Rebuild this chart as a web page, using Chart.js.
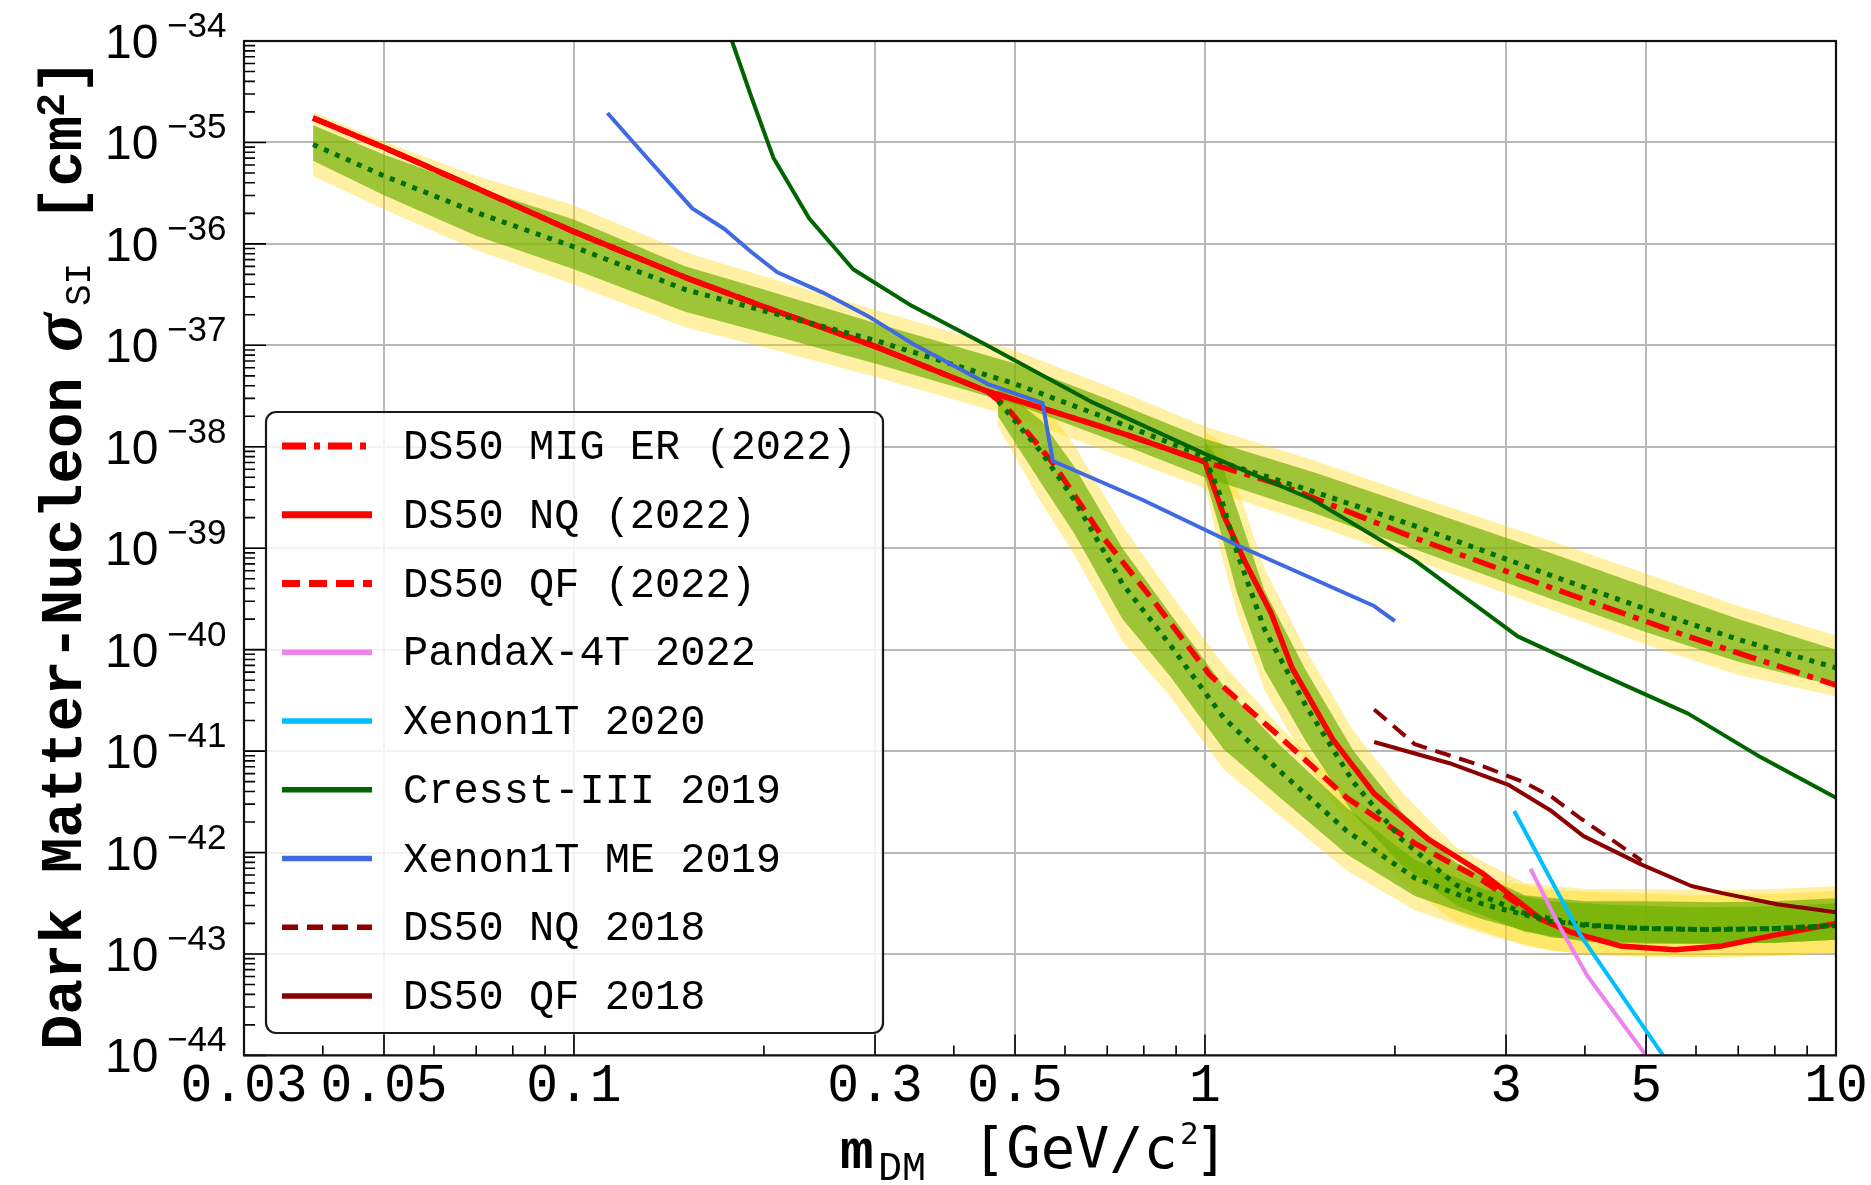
<!DOCTYPE html>
<html>
<head>
<meta charset="utf-8">
<title>Dark Matter-Nucleon SI limits</title>
<script src="https://cdn.jsdelivr.net/npm/chart.js@4.4.1/dist/chart.umd.min.js"></script>
<style>
html, body { margin: 0; padding: 0; background: #ffffff; overflow: hidden; }
#wrap { width: 1871px; height: 1185px; }
canvas { display: block; }
</style>
</head>
<body>
<div id="wrap"><canvas id="chart" width="1871" height="1185"></canvas></div>
<script>
// ---------------- axis ticks ----------------
const xTickValues = [0.03, 0.05, 0.1, 0.3, 0.5, 1, 3, 5, 10];
const xTickLabels = ['0.03', '0.05', '0.1', '0.3', '0.5', '1', '3', '5', '10'];
const yTickExps = [-44, -43, -42, -41, -40, -39, -38, -37, -36, -35, -34];

// ---------------- DS50 2022 limits (GeV/c^2, cm^2) ----------------
const ds50LowMass  = [0.0386, 0.05, 0.07, 0.1, 0.15, 0.2, 0.3, 0.45];
const ds50LowSigma = [1.74e-35, 8.91e-36, 3.55e-36, 1.32e-36, 4.68e-37, 2.40e-37, 9.77e-38, 3.55e-38];

const migErMass  = [0.56, 0.75, 1.0, 1.31, 2.15, 3.54, 5.83, 10];
const migErSigma = [2.34e-38, 1.32e-38, 7.08e-39, 4.27e-39, 1.26e-39, 4.07e-40, 1.35e-40, 4.47e-41];

const nqMass  = [0.56, 0.75, 1.0, 1.07, 1.154, 1.275, 1.374, 1.596, 1.854, 2.26, 2.76, 3.41, 3.82, 4.55, 5.55, 6.6, 8.07, 10];
const nqSigma = [2.34e-38, 1.32e-38, 7.08e-39, 2.14e-39, 7.59e-40, 2.24e-40, 6.61e-41, 1.29e-41, 3.80e-42, 1.35e-42, 6.17e-43, 2.19e-43, 1.62e-43, 1.20e-43, 1.10e-43, 1.20e-43, 1.55e-43, 2.00e-43];

const qfMass  = [0.482, 0.574, 0.683, 0.834, 1.018, 1.31, 1.677, 2.15, 2.76, 3.41];
const qfSigma = [2.57e-38, 6.92e-39, 1.38e-39, 2.88e-40, 5.62e-41, 1.41e-41, 3.47e-42, 1.23e-42, 5.25e-43, 2.19e-43];

// ---------------- expected sensitivity bands ----------------
const migBandMass   = [0.0386, 0.05, 0.07, 0.1, 0.15, 0.2, 0.3, 0.5, 0.7, 1.0, 1.5, 2.15, 3.54, 5, 7, 10];
const migBandMedian = [9.55e-36, 4.68e-36, 2.04e-36, 9.33e-37, 3.55e-37, 2.19e-37, 1.12e-37, 4.17e-38, 1.91e-38, 7.94e-39, 3.55e-39, 1.66e-39, 5.37e-40, 2.51e-40, 1.26e-40, 6.61e-41];
const migBand1Hi    = [1.48e-35, 7.59e-36, 3.55e-36, 1.74e-36, 6.03e-37, 3.55e-37, 1.66e-37, 6.61e-38, 2.95e-38, 1.20e-38, 5.50e-39, 2.57e-39, 8.91e-40, 4.17e-40, 2.00e-40, 1.00e-40];
const migBand1Lo    = [6.61e-36, 3.02e-36, 1.20e-36, 5.62e-37, 2.14e-37, 1.32e-37, 6.61e-38, 2.63e-38, 1.20e-38, 5.01e-39, 2.19e-39, 9.77e-40, 3.16e-40, 1.48e-40, 7.59e-41, 4.37e-41];
const migBand2Hi    = [2.00e-35, 1.02e-35, 4.68e-36, 2.40e-36, 8.32e-37, 4.79e-37, 2.24e-37, 8.91e-38, 3.98e-38, 1.58e-38, 7.24e-39, 3.31e-39, 1.18e-39, 5.62e-40, 2.69e-40, 1.38e-40];
const migBand2Lo    = [4.68e-36, 2.19e-36, 8.71e-37, 3.98e-37, 1.51e-37, 9.55e-38, 4.90e-38, 1.95e-38, 8.91e-39, 3.89e-39, 1.66e-39, 7.59e-40, 2.45e-40, 1.12e-40, 5.62e-41, 3.47e-41];

const qfBandMass   = [0.47, 0.55, 0.62, 0.74, 0.88, 1.07, 1.31, 1.68, 2.15, 2.76, 3.54, 4.55, 6, 8, 10];
const qfBandMedian = [2.82e-38, 8.91e-39, 3.02e-39, 4.47e-40, 1.12e-40, 2.14e-41, 6.46e-42, 1.62e-42, 5.62e-43, 3.09e-43, 2.09e-43, 1.82e-43, 1.74e-43, 1.78e-43, 1.91e-43];
const qfBand1Hi    = [3.98e-38, 1.82e-38, 6.46e-39, 1.00e-39, 2.29e-40, 4.37e-41, 1.17e-41, 2.75e-42, 8.51e-43, 4.37e-43, 3.31e-43, 3.02e-43, 2.88e-43, 2.95e-43, 3.16e-43];
const qfBand1Lo    = [2.00e-38, 4.37e-39, 1.41e-39, 2.00e-40, 5.50e-41, 1.05e-41, 3.55e-42, 9.55e-43, 3.72e-43, 2.19e-43, 1.45e-43, 1.32e-43, 1.26e-43, 1.29e-43, 1.38e-43];
const qfBand2Hi    = [5.01e-38, 2.82e-38, 1.05e-38, 1.66e-39, 3.63e-40, 7.08e-41, 1.78e-41, 3.98e-42, 1.17e-42, 5.75e-43, 4.27e-43, 3.98e-43, 3.80e-43, 3.89e-43, 4.17e-43];
const qfBand2Lo    = [1.58e-38, 2.82e-39, 8.71e-40, 1.20e-40, 3.47e-41, 6.61e-42, 2.34e-42, 6.61e-43, 2.69e-43, 1.58e-43, 1.07e-43, 9.77e-44, 9.33e-44, 9.55e-44, 1.02e-43];

const nqBandMass   = [1.0, 1.06, 1.125, 1.243, 1.444, 1.72, 2.05, 2.5, 3.21, 4.0, 5, 6.5, 8, 10];
const nqBandMedian = [7.94e-39, 3.16e-39, 8.91e-40, 1.58e-40, 2.82e-41, 4.90e-42, 1.35e-42, 4.79e-43, 2.51e-43, 1.91e-43, 1.78e-43, 1.74e-43, 1.78e-43, 1.91e-43];
const nqBand1Hi    = [1.12e-38, 7.08e-39, 2.40e-39, 3.80e-40, 6.31e-41, 1.00e-41, 2.51e-42, 7.94e-43, 3.80e-43, 3.31e-43, 3.31e-43, 3.24e-43, 3.31e-43, 3.55e-43];
const nqBand1Lo    = [5.01e-39, 1.41e-39, 3.55e-40, 6.31e-41, 1.26e-41, 2.40e-42, 7.59e-43, 3.02e-43, 1.66e-43, 1.32e-43, 1.26e-43, 1.26e-43, 1.29e-43, 1.38e-43];
const nqBand2Hi    = [1.41e-38, 1.12e-38, 3.98e-39, 6.31e-40, 1.00e-40, 1.58e-41, 3.98e-42, 1.12e-42, 5.01e-43, 4.37e-43, 4.37e-43, 4.27e-43, 4.37e-43, 4.68e-43];
const nqBand2Lo    = [3.98e-39, 8.91e-40, 2.24e-40, 3.98e-41, 7.94e-42, 1.51e-42, 5.01e-43, 2.09e-43, 1.20e-43, 9.77e-44, 9.33e-44, 9.33e-44, 9.55e-44, 1.02e-43];

// ---------------- other experiments ----------------
const pandaxMass  = [3.28, 3.67, 4.04, 5.0];
const pandaxSigma = [6.92e-43, 1.74e-43, 6.03e-44, 1.0e-44];

const xenon2020Mass  = [3.09, 3.95, 5.32];
const xenon2020Sigma = [2.57e-42, 1.48e-43, 1.0e-44];

const cresstMass  = [0.178, 0.191, 0.207, 0.236, 0.277, 0.343, 0.445, 0.657, 1.0, 1.48, 2.15, 3.13, 4.02, 5.83, 7.5, 10];
const cresstSigma = [1.0e-34, 2.82e-35, 7.08e-36, 1.78e-36, 5.62e-37, 2.45e-37, 1.05e-37, 2.82e-38, 8.51e-39, 3.02e-39, 7.59e-40, 1.35e-40, 6.61e-41, 2.34e-41, 9.12e-42, 3.47e-42];

const xenonMeMass  = [0.113, 0.1275, 0.154, 0.173, 0.191, 0.21, 0.248, 0.292, 0.343, 0.402, 0.452, 0.553, 0.574, 0.794, 1.125, 1.854, 2.0];
const xenonMeSigma = [1.95e-35, 8.32e-36, 2.24e-36, 1.41e-36, 8.32e-37, 5.25e-37, 3.31e-37, 1.95e-37, 1.05e-37, 6.17e-38, 4.17e-38, 2.69e-38, 7.24e-39, 3.02e-39, 1.07e-39, 2.69e-40, 1.91e-40];

const ds50Nq2018Mass  = [1.854, 2.15, 2.76, 3.21, 3.54, 3.95, 4.57, 4.92];
const ds50Nq2018Sigma = [2.57e-41, 1.17e-41, 7.08e-42, 4.90e-42, 3.55e-42, 2.14e-42, 1.15e-42, 8.32e-43];

const ds50Qf2018Mass  = [1.854, 2.44, 3.02, 3.52, 3.98, 4.92, 5.9, 6.6, 8.07, 10];
const ds50Qf2018Sigma = [1.23e-41, 7.59e-42, 4.68e-42, 2.63e-42, 1.45e-42, 7.59e-43, 4.68e-43, 3.98e-43, 3.09e-43, 2.57e-43];

const legendLabels = ['DS50 MIG ER (2022)', 'DS50 NQ (2022)', 'DS50 QF (2022)', 'PandaX-4T 2022',
  'Xenon1T 2020', 'Cresst-III 2019', 'Xenon1T ME 2019', 'DS50 NQ 2018', 'DS50 QF 2018'];

// ---------------- helpers to build Chart.js data ----------------
function series(mass, sigma) { return mass.map((m, i) => ({ x: m, y: sigma[i] })); }
function bandPolygon(mass, hi, lo) {
  const pts = mass.map((m, i) => ({ x: m, y: hi[i] }));
  for (let i = mass.length - 1; i >= 0; i--) pts.push({ x: mass[i], y: lo[i] });
  return pts;
}

const YELLOW = 'rgba(255, 214, 0, 0.36)';
const GREEN = 'rgba(108, 175, 0, 0.66)';
const DOTTED = '#006e00';

function band(label, data, color) {
  return { label, data, fill: 'shape', backgroundColor: color, borderWidth: 0, borderColor: 'rgba(0,0,0,0)',
           pointRadius: 0, tension: 0, order: color === YELLOW ? 5 : 4 };
}
function curve(label, data, color, width, dash, order, legendWidth) {
  return { label, data, fill: false, borderColor: color, backgroundColor: color, borderWidth: width,
           borderDash: dash, borderCapStyle: 'butt', borderJoinStyle: 'round', pointRadius: 0, tension: 0,
           order, legendWidth };
}

const datasets = [
  band('MIG ER 2σ', bandPolygon(migBandMass, migBand2Hi, migBand2Lo), YELLOW),
  band('QF 2σ', bandPolygon(qfBandMass, qfBand2Hi, qfBand2Lo), YELLOW),
  band('NQ 2σ', bandPolygon(nqBandMass, nqBand2Hi, nqBand2Lo), YELLOW),
  band('MIG ER 1σ', bandPolygon(migBandMass, migBand1Hi, migBand1Lo), GREEN),
  band('QF 1σ', bandPolygon(qfBandMass, qfBand1Hi, qfBand1Lo), GREEN),
  band('NQ 1σ', bandPolygon(nqBandMass, nqBand1Hi, nqBand1Lo), GREEN),

  curve('DS50 MIG ER (2022)', series(ds50LowMass.concat(migErMass), ds50LowSigma.concat(migErSigma)), '#ff0000', 5.5, [24, 8, 6, 8], 3, 7),
  curve('DS50 NQ (2022)', series(ds50LowMass.concat(nqMass), ds50LowSigma.concat(nqSigma)), '#ff0000', 5.5, [], 3, 7),
  curve('DS50 QF (2022)', series(ds50LowMass.concat(qfMass), ds50LowSigma.concat(qfSigma)), '#ff0000', 5.5, [18, 9], 3, 7),

  curve('MIG ER median', series(migBandMass, migBandMedian), DOTTED, 5, [5, 7], 2, 5),
  curve('QF median', series(qfBandMass, qfBandMedian), DOTTED, 5, [5, 7], 2, 5),
  curve('NQ median', series(nqBandMass, nqBandMedian), DOTTED, 5, [5, 7], 2, 5),

  curve('PandaX-4T 2022', series(pandaxMass, pandaxSigma), '#ee82ee', 4, [], 1, 5.5),
  curve('Xenon1T 2020', series(xenon2020Mass, xenon2020Sigma), '#00bfff', 4, [], 1, 5.5),
  curve('Cresst-III 2019', series(cresstMass, cresstSigma), '#006400', 4, [], 1, 5.5),
  curve('Xenon1T ME 2019', series(xenonMeMass, xenonMeSigma), '#4169e1', 4, [], 1, 5.5),
  curve('DS50 NQ 2018', series(ds50Nq2018Mass, ds50Nq2018Sigma), '#8b0000', 4, [16, 9], 1, 5.5),
  curve('DS50 QF 2018', series(ds50Qf2018Mass, ds50Qf2018Sigma), '#8b0000', 4, [], 1, 5.5)
];

// ---------------- overlay: inward ticks, frame, labels, titles, legend ----------------
const overlayPlugin = {
  id: 'overlay',
  afterDraw(chart) {
    const ctx = chart.ctx;
    const a = chart.chartArea;
    const xs = chart.scales.x, ys = chart.scales.y;
    ctx.save();

    // inward tick marks (left and bottom)
    ctx.strokeStyle = '#000';
    ctx.lineWidth = 1.6;
    ctx.setLineDash([]);
    ctx.beginPath();
    for (let d = -44; d < -34; d++) {
      for (let m = 1; m <= 9; m++) {
        const py = ys.getPixelForValue(m * Math.pow(10, d));
        const len = (m === 1) ? 22 : 11;
        ctx.moveTo(a.left, py);
        ctx.lineTo(a.left + len, py);
      }
    }
    for (let d = -2; d <= 1; d++) {
      for (let m = 1; m <= 9; m++) {
        const v = m * Math.pow(10, d);
        if (v < 0.0299 || v > 10.01) continue;
        const isMajor = xTickValues.some(t => Math.abs(t - v) / t < 1e-6);
        const px = xs.getPixelForValue(v);
        const len = isMajor ? 21 : 10;
        ctx.moveTo(px, a.bottom);
        ctx.lineTo(px, a.bottom - len);
      }
    }
    ctx.stroke();

    // frame
    ctx.lineWidth = 2.2;
    ctx.strokeStyle = '#111';
    ctx.strokeRect(a.left, a.top, a.right - a.left, a.bottom - a.top);

    // y tick labels 10^-n
    ctx.fillStyle = '#000';
    ctx.textAlign = 'left';
    ctx.textBaseline = 'alphabetic';
    yTickExps.forEach(e => {
      const py = ys.getPixelForValue(Number('1e' + e));
      ctx.font = '48px "Liberation Sans"';
      ctx.fillText('10', 105, py + 17);
      ctx.font = '35px "Liberation Sans"';
      ctx.fillText('\u2212' + Math.abs(e), 167, py - 4);
    });

    // x axis title: m_DM [GeV/c^2]
    ctx.font = 'bold 56px "Liberation Mono"';
    ctx.fillText('m', 840, 1168);
    ctx.font = '40px "Liberation Mono"';
    ctx.fillText('DM', 878, 1180);
    ctx.font = '57px "DejaVu Sans Mono"';
    ctx.fillText('[GeV/c', 972, 1168);
    ctx.font = '31px "DejaVu Sans Mono"';
    ctx.fillText('2', 1180, 1144);
    ctx.font = '57px "DejaVu Sans Mono"';
    ctx.fillText(']', 1194, 1168);

    // y axis title (rotated)
    ctx.save();
    ctx.translate(81, 0);
    ctx.rotate(-Math.PI / 2);
    ctx.font = 'bold 59px "Liberation Mono"';
    ctx.fillText('Dark Matter-Nucleon', -1050, 0);
    ctx.font = 'bold italic 72px "Liberation Serif"';
    ctx.fillText('\u03c3', -352, 0);
    ctx.font = '36px "Liberation Mono"';
    ctx.fillText('SI', -306, 9);
    ctx.font = 'bold 59px "Liberation Mono"';
    ctx.fillText('[cm', -222, 0);
    ctx.font = 'bold 40px "Liberation Mono"';
    ctx.fillText('2', -117, -17);
    ctx.font = 'bold 59px "Liberation Mono"';
    ctx.fillText(']', -94, 0);
    ctx.restore();

    // legend
    ctx.beginPath();
    ctx.roundRect(266, 412, 617, 621, 10);
    ctx.fillStyle = 'rgba(255,255,255,0.82)';
    ctx.fill();
    ctx.lineWidth = 2.2;
    ctx.strokeStyle = '#1a1a1a';
    ctx.stroke();
    ctx.font = '42px "Liberation Mono"';
    ctx.textBaseline = 'middle';
    legendLabels.forEach((lab, i) => {
      const ds = chart.data.datasets.find(d => d.label === lab);
      const cy = 446 + i * 68.75;
      ctx.save();
      ctx.strokeStyle = ds.borderColor;
      ctx.lineWidth = ds.legendWidth;
      ctx.setLineDash(ds.borderDash || []);
      ctx.lineCap = 'butt';
      ctx.beginPath();
      ctx.moveTo(282, cy);
      ctx.lineTo(372, cy);
      ctx.stroke();
      ctx.restore();
      ctx.fillStyle = '#000';
      ctx.fillText(lab, 403, cy + 2);
    });
    ctx.restore();
  }
};

new Chart(document.getElementById('chart'), {
  type: 'line',
  data: { datasets },
  options: {
    responsive: false,
    animation: false,
    devicePixelRatio: 1,
    layout: { padding: { left: 244, top: 41, right: 35, bottom: 66 } },
    plugins: { legend: { display: false }, tooltip: { enabled: false }, title: { display: false } },
    elements: { point: { radius: 0 }, line: { tension: 0 } },
    scales: {
      x: {
        type: 'logarithmic', position: 'bottom', min: 0.03, max: 10,
        afterBuildTicks: s => { s.ticks = xTickValues.map(v => ({ value: v })); },
        ticks: {
          autoSkip: false, maxRotation: 0, minRotation: 0, padding: 0, color: '#000',
          font: { family: 'Liberation Mono', size: 53 },
          callback: (v, i) => xTickLabels[i]
        },
        grid: { color: '#b8b8b8', lineWidth: 2, drawTicks: false },
        border: { display: false }
      },
      y: {
        type: 'logarithmic', position: 'left', min: 1e-44, max: 1e-34,
        afterBuildTicks: s => { s.ticks = yTickExps.map(e => ({ value: Number('1e' + e) })); },
        ticks: { display: false },
        grid: { color: '#b8b8b8', lineWidth: 2, drawTicks: false },
        border: { display: false }
      }
    }
  },
  plugins: [overlayPlugin]
});
</script>
</body>
</html>
